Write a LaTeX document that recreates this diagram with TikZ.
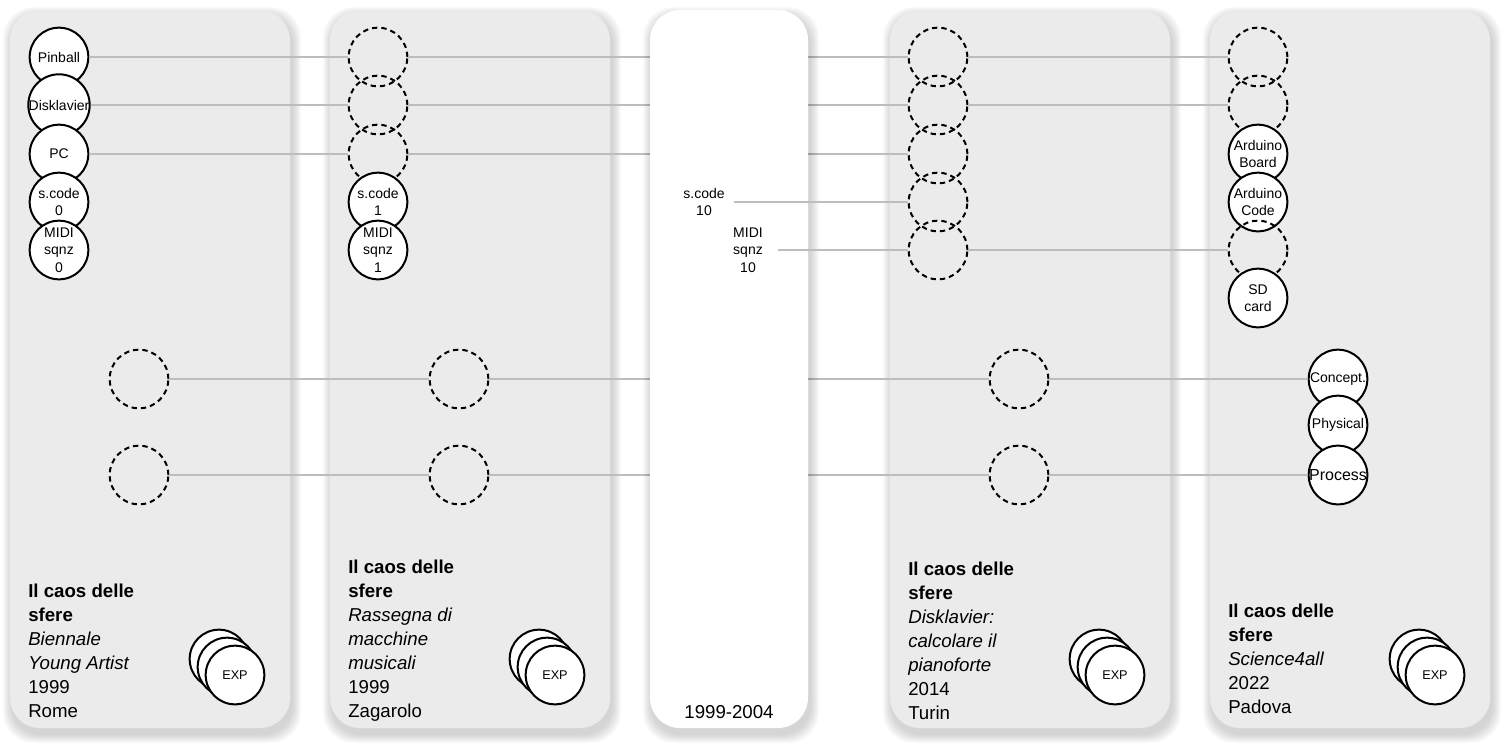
\documentclass[tikz,border=0pt]{standalone}
\usepackage{fontspec}
\setmainfont{Liberation Sans}
\setsansfont{Liberation Sans}
\definecolor{panelgray}{HTML}{EBEBEB}
\definecolor{linegray}{HTML}{BDBDBD}
\newcommand\pshadow[4]{%
  \foreach \i in {1,...,9}{%
    \fill[black,opacity=0.02,rounded corners=22.5pt]
      (#1+2-\i,#2+6-\i) rectangle (#3+2+\i,#4+6+\i);}}
\begin{document}
\begin{tikzpicture}[x=0.75pt,y=-0.75pt,
  panel/.style={fill=panelgray,rounded corners=22.5pt},
  wpanel/.style={fill=white,rounded corners=22.5pt},
  item/.style={circle,draw=black,line width=1.5pt,fill=white,minimum size=44pt,inner sep=0pt,align=center,font=\fontsize{10.5}{13}\selectfont},
  ghost/.style={circle,draw=black,line width=1.5pt,dash pattern=on 4pt off 3pt,minimum size=44pt,inner sep=0pt},
  hidden/.style={circle,minimum size=44pt,inner sep=0pt,align=center,font=\fontsize{10.5}{13}\selectfont},
  conn/.style={draw=linegray,line width=1.4pt},
  expc/.style={circle,draw=black,line width=1.5pt,fill=white,minimum size=44pt,inner sep=0pt,font=\fontsize{9.5}{11}\selectfont},
  caption/.style={anchor=base west,align=left,inner sep=0pt,font=\fontsize{14}{18}\selectfont}
]
\useasboundingbox (0,0) rectangle (1502,744);
% panels
\pshadow{10}{10}{290}{728}
\fill[panel] (10,10) rectangle (290,728);
\pshadow{330}{10}{610}{728}
\fill[panel] (330,10) rectangle (610,728);
\pshadow{890}{10}{1170}{728}
\fill[panel] (890,10) rectangle (1170,728);
\pshadow{1210}{10}{1490}{728}
\fill[panel] (1210,10) rectangle (1490,728);

% panel 1
\node[item] (pin) at (59,57) {Pinball};
\node[item] (disk) at (59,105) {Disklavier};
\node[item] (pc) at (59,154) {PC};
\node[item] (sc0) at (59,202) {s.code\\0};
\node[item] (midi0) at (59,250) {MIDI\\sqnz\\0};
\node[ghost] (f1) at (139,379) {};
\node[ghost] (g1) at (139,475) {};

% panel 2
\node[ghost] (a2) at (378,57) {};
\node[ghost] (b2) at (378,105) {};
\node[ghost] (c2) at (378,154) {};
\node[item] (sc1) at (378,202) {s.code\\1};
\node[item] (midi1) at (378,250) {MIDI\\sqnz\\1};
\node[ghost] (f2) at (459,379) {};
\node[ghost] (g2) at (459,475) {};

% panel 4
\node[ghost] (a4) at (938,57) {};
\node[ghost] (b4) at (938,105) {};
\node[ghost] (c4) at (938,154) {};
\node[ghost] (d4) at (938,202) {};
\node[ghost] (e4) at (938,250) {};
\node[ghost] (f4) at (1019,379) {};
\node[ghost] (g4) at (1019,475) {};

% panel 5
\node[ghost] (a5) at (1258,57) {};
\node[ghost] (b5) at (1258,105) {};
\node[item] (ab) at (1258,154) {Arduino\\Board};
\node[item] (ac) at (1258,202) {Arduino\\Code};
\node[ghost] (e5) at (1258,250) {};
\node[item] (sd) at (1258,298) {SD\\card};
\node[item] (con) at (1338,379) {Concept.};
\node[item] (phy) at (1338,425) {Physical};
\node[item,font=\fontsize{12}{14}\selectfont] (pro) at (1338,475) {Process};

% connectors
\draw[conn] (pin) -- (a2);
\draw[conn] (a2) -- (a4);
\draw[conn] (a4) -- (a5);
\draw[conn] (disk) -- (b2);
\draw[conn] (b2) -- (b4);
\draw[conn] (b4) -- (b5);
\draw[conn] (pc) -- (c2);
\draw[conn] (c2) -- (c4);
\draw[conn] (e4) -- (e5);
\draw[conn] (f1) -- (f2);
\draw[conn] (f2) -- (f4);
\draw[conn] (f4) -- (con);
\draw[conn] (g1) -- (g2);
\draw[conn] (g2) -- (g4);
\draw[conn] (g4) -- (pro);

% white middle panel
\pshadow{650}{10}{808}{728}
\fill[wpanel] (650,10) rectangle (808,728);
\node[hidden] (sc10) at (704,202) {s.code\\10};
\node[hidden] (midi10) at (748,250) {MIDI\\sqnz\\10};
\draw[conn] (sc10) -- (d4);
\draw[conn] (midi10) -- (e4);
\node[font=\fontsize{14}{18}\selectfont,anchor=base,inner sep=0pt] (yrs) at (729,718) {1999-2004};

% EXP stacks
\node[expc] (x1c) at (219,659) {};
\node[expc] (x1b) at (227,667) {};
\node[expc] (x1a) at (235,675) {EXP};
\node[expc] (x2c) at (539,659) {};
\node[expc] (x2b) at (547,667) {};
\node[expc] (x2a) at (555,675) {EXP};
\node[expc] (x4c) at (1099,659) {};
\node[expc] (x4b) at (1107,667) {};
\node[expc] (x4a) at (1115,675) {EXP};
\node[expc] (x5c) at (1419,659) {};
\node[expc] (x5b) at (1427,667) {};
\node[expc] (x5a) at (1435,675) {EXP};

% captions
\node[caption] (t1) at (28,717) {\textbf{Il caos delle}\\\textbf{sfere}\\\textit{Biennale}\\\textit{Young Artist}\\1999\\Rome};
\node[caption] (t2) at (348,717) {\textbf{Il caos delle}\\\textbf{sfere}\\\textit{Rassegna di}\\\textit{macchine}\\\textit{musicali}\\1999\\Zagarolo};
\node[caption] (t4) at (908,719) {\textbf{Il caos delle}\\\textbf{sfere}\\\textit{Disklavier:}\\\textit{calcolare il}\\\textit{pianoforte}\\2014\\Turin};
\node[caption] (t5) at (1228,713) {\textbf{Il caos delle}\\\textbf{sfere}\\\textit{Science4all}\\2022\\Padova};
\end{tikzpicture}
\end{document}
